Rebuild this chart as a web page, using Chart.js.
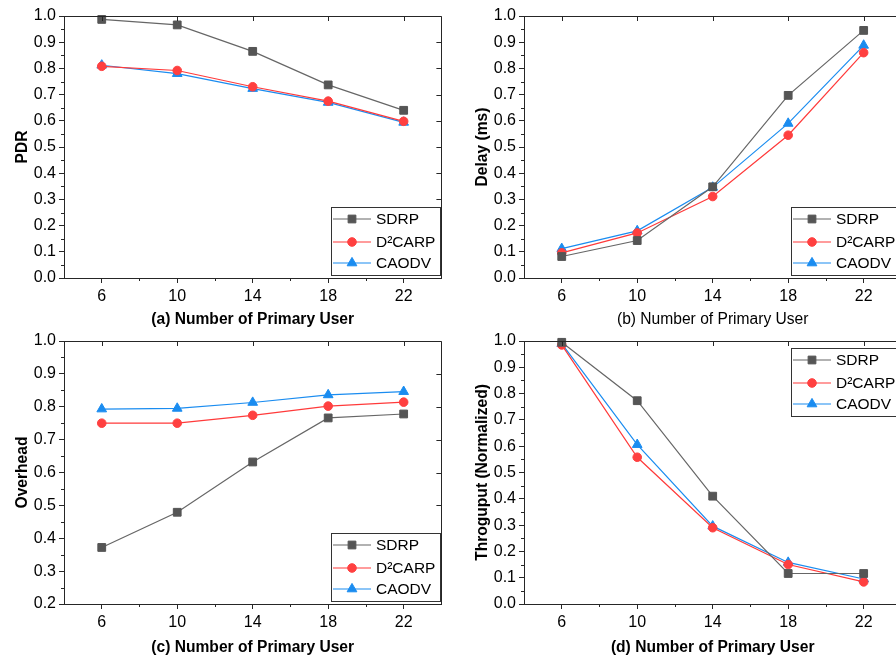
<!DOCTYPE html>
<html>
<head>
<meta charset="utf-8">
<script src="https://cdn.jsdelivr.net/npm/chart.js@4.4.1/dist/chart.umd.min.js"></script>
<style>
  html, body { margin:0; padding:0; background:#fff; overflow:hidden; }
  body { width:896px; height:658px; position:relative; }
  canvas { position:absolute; }
</style>
</head>
<body>
<canvas id="chartA" width="448" height="330" style="left:0;top:0;"></canvas>
<canvas id="chartB" width="448" height="330" style="left:460px;top:0;"></canvas>
<canvas id="chartC" width="448" height="330" style="left:0;top:328px;"></canvas>
<canvas id="chartD" width="448" height="330" style="left:460px;top:328px;"></canvas>
<script>
// ===== Data =====
const xValues = [6, 10, 14, 18, 22];
const xTicks = [6, 10, 14, 18, 22];
const xMinorTicks = [8, 12, 16, 20];
const seriesNames = ['SDRP', 'D\u00B2CARP', 'CAODV'];

const pdrSDRP   = [0.987, 0.966, 0.865, 0.737, 0.640];
const pdrD2CARP = [0.808, 0.792, 0.730, 0.675, 0.598];
const pdrCAODV  = [0.812, 0.780, 0.723, 0.670, 0.594];

const delaySDRP   = [0.082, 0.143, 0.348, 0.697, 0.945];
const delayD2CARP = [0.096, 0.172, 0.311, 0.545, 0.860];
const delayCAODV  = [0.112, 0.180, 0.346, 0.590, 0.888];

const overheadSDRP   = [0.372, 0.479, 0.632, 0.766, 0.778];
const overheadD2CARP = [0.750, 0.750, 0.774, 0.802, 0.814];
const overheadCAODV  = [0.793, 0.795, 0.813, 0.836, 0.846];

const thrSDRP   = [0.995, 0.773, 0.410, 0.116, 0.116];
const thrD2CARP = [0.985, 0.558, 0.290, 0.150, 0.084];
const thrCAODV  = [0.990, 0.606, 0.296, 0.158, 0.095];

// ===== Style =====
const FONT = "'Liberation Sans', Arial, sans-serif";
const axisColor = '#262626';
const lineColors   = ['#666666', '#ff3a3a', '#1a8cf0'];
const markerColors = ['#555555', '#ff4040', '#1a8cf0'];
const pointStyles  = ['rect', 'circle', 'triangle'];
const pointRadii   = [5.5, 4.3, 5.6];
const legendRowY   = [12, 35, 56];

// ===== Plugins =====
const framePlugin = {
  id: 'frame',
  afterDraw(chart){
    const {ctx, chartArea:a, scales:{x, y}} = chart;
    const r = v => Math.round(v) + 0.5;
    ctx.save();
    ctx.strokeStyle = axisColor; ctx.lineWidth = 1;
    ctx.beginPath();
    ctx.moveTo(a.left, r(a.top)); ctx.lineTo(r(a.right), r(a.top)); ctx.lineTo(r(a.right), a.bottom);
    xTicks.forEach(v => { const px = r(x.getPixelForValue(v)); ctx.moveTo(px, a.top); ctx.lineTo(px, a.top + 5); });
    y.ticks.forEach(t => { const py = r(y.getPixelForValue(t.value)); ctx.moveTo(a.right, py); ctx.lineTo(a.right - 5, py); });
    xMinorTicks.forEach(v => { const px = r(x.getPixelForValue(v)); ctx.moveTo(px, a.bottom); ctx.lineTo(px, a.bottom + 3); });
    const n = Math.round((y.max - y.min) / 0.1);
    for (let i = 1; i < n * 2; i += 2) {
      const py = r(y.getPixelForValue(y.min + i * 0.05));
      ctx.moveTo(a.left, py); ctx.lineTo(a.left - 3, py);
    }
    ctx.stroke();
    ctx.restore();
  }
};

const boxLegend = {
  id: 'boxLegend',
  afterDraw(chart, args, opts){
    const {ctx, chartArea:a} = chart;
    const w = 109, h = 68;
    const bx = Math.round(a.left + 267);
    const by = Math.round(opts.at === 'top' ? a.top + 7 : a.bottom - 71);
    ctx.save();
    ctx.fillStyle = '#fff'; ctx.fillRect(bx, by, w, h);
    ctx.strokeStyle = '#333'; ctx.lineWidth = 1; ctx.strokeRect(bx + 0.5, by + 0.5, w, h);
    chart.data.datasets.forEach((ds, i) => {
      const cy = by + legendRowY[i];
      ctx.strokeStyle = ds.borderColor; ctx.lineWidth = 1.2;
      ctx.beginPath(); ctx.moveTo(bx + 2, cy); ctx.lineTo(bx + 40, cy); ctx.stroke();
      ctx.fillStyle = ds.pointBackgroundColor; ctx.strokeStyle = ds.pointBorderColor; ctx.lineWidth = 1;
      Chart.helpers.drawPoint(ctx, {pointStyle: ds.pointStyle, radius: ds.pointRadius, borderWidth: 1, rotation: 0}, bx + 21, cy);
      ctx.fillStyle = '#000';
      ctx.font = '15.5px ' + FONT;
      ctx.textBaseline = 'middle'; ctx.textAlign = 'left';
      ctx.fillText(ds.label, bx + 45, cy + 1);
    });
    ctx.restore();
  }
};

// ===== Chart factory =====
function makeChart(id, cfg){
  return new Chart(document.getElementById(id), {
    type: 'line',
    data: {
      datasets: seriesNames.map((name, i) => ({
        label: name,
        data: xValues.map((xv, j) => ({x: xv, y: cfg.values[i][j]})),
        borderColor: lineColors[i],
        borderWidth: 1.2,
        pointStyle: pointStyles[i],
        pointRadius: pointRadii[i],
        pointBackgroundColor: markerColors[i],
        pointBorderColor: markerColors[i],
        pointBorderWidth: 1,
        tension: 0,
        clip: false
      }))
    },
    options: {
      responsive: false, animation: false,
      layout: { padding: { top: cfg.padTop, right: 2, left: 0, bottom: 0 } },
      plugins: { legend: { display: false }, tooltip: { enabled: false }, boxLegend: { at: cfg.legendAt } },
      scales: {
        x: {
          type: 'linear', min: 4, max: 24,
          afterBuildTicks: s => { s.ticks = xTicks.map(v => ({value: v})); },
          afterFit: s => { s.height = cfg.xHeight; },
          ticks: { color: '#000', font: { family: FONT, size: 16 }, padding: 4 },
          grid: { drawOnChartArea: false, tickLength: 5, color: axisColor },
          border: { color: axisColor, width: 1 },
          title: { display: true, text: cfg.xTitle, color: '#000',
                   font: { family: FONT, size: 15.6, weight: cfg.xBold ? 'bold' : 'normal' },
                   padding: { top: 0, bottom: 1 } }
        },
        y: {
          min: cfg.yMin, max: 1,
          afterFit: s => { s.width = 64; },
          ticks: { stepSize: 0.1, color: '#000', font: { family: FONT, size: 16 }, padding: 3,
                   callback: v => Number(v).toFixed(1) },
          grid: { drawOnChartArea: false, tickLength: 5, color: axisColor },
          border: { color: axisColor, width: 1 },
          title: { display: true, text: cfg.yTitle, color: '#000',
                   font: { family: FONT, size: 15.6, weight: 'bold' },
                   padding: { top: 13, bottom: 0 } }
        }
      }
    },
    plugins: [framePlugin, boxLegend]
  });
}

window.addEventListener('DOMContentLoaded', () => {
  makeChart('chartA', { values: [pdrSDRP, pdrD2CARP, pdrCAODV], yMin: 0, padTop: 16, xHeight: 52,
    xTitle: '(a) Number of Primary User', xBold: true, yTitle: 'PDR', legendAt: 'bottom' });
  makeChart('chartB', { values: [delaySDRP, delayD2CARP, delayCAODV], yMin: 0, padTop: 16, xHeight: 52,
    xTitle: '(b) Number of Primary User', xBold: false, yTitle: 'Delay (ms)', legendAt: 'bottom' });
  makeChart('chartC', { values: [overheadSDRP, overheadD2CARP, overheadCAODV], yMin: 0.2, padTop: 13, xHeight: 54,
    xTitle: '(c) Number of Primary User', xBold: true, yTitle: 'Overhead', legendAt: 'bottom' });
  makeChart('chartD', { values: [thrSDRP, thrD2CARP, thrCAODV], yMin: 0, padTop: 13, xHeight: 54,
    xTitle: '(d) Number of Primary User', xBold: true, yTitle: 'Throguput (Normalized)', legendAt: 'top' });
});
</script>
</body>
</html>
